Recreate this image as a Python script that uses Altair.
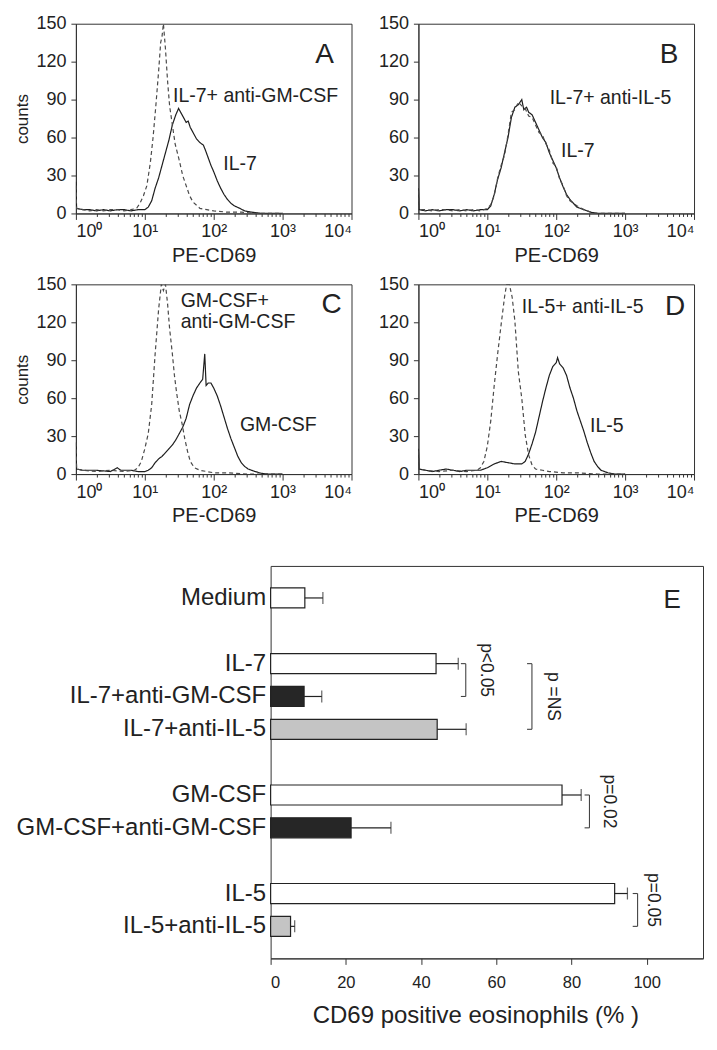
import altair as alt
import pandas as pd

FONT = "Liberation Sans"
INK = "#222222"

# ---------------- histogram data (log10 PE-CD69 intensity, counts) ----------------
A_il7_e = [0.0, 0.01, 0.1, 0.2, 0.3, 0.4, 0.5, 0.6, 0.7, 0.8, 0.9, 1.0, 1.05, 1.1, 1.15, 1.2, 1.25, 1.3, 1.35, 1.4,
           1.45, 1.49, 1.52, 1.56, 1.6, 1.63, 1.66, 1.7, 1.75, 1.8, 1.85, 1.88, 1.92, 1.96, 2.0, 2.05, 2.1, 2.15,
           2.2, 2.25, 2.3, 2.38, 2.45, 2.55, 2.7, 3.0]
A_il7_c = [25, 4, 3, 3, 2, 3, 2, 3, 3, 2, 3, 3, 5, 10, 20, 28, 38, 48, 58, 70,
           78, 83, 80, 76, 72, 73, 68, 64, 59, 56, 54, 50, 44, 38, 33, 26, 20, 15,
           11, 8, 6, 4, 2, 1, 0, 0]
A_agm_e = [0.0, 0.01, 0.1, 0.2, 0.3, 0.4, 0.5, 0.6, 0.7, 0.8, 0.88, 0.93, 0.98, 1.03, 1.08, 1.12, 1.16, 1.2, 1.23,
           1.25, 1.27, 1.3, 1.33, 1.36, 1.4, 1.44, 1.5, 1.55, 1.6, 1.65, 1.7, 1.8, 1.9, 2.0, 2.2, 2.4, 2.6, 3.0]
A_agm_c = [22, 4, 3, 2, 3, 2, 3, 3, 2, 3, 4, 8, 14, 22, 40, 60, 85, 112, 135,
           140, 150, 130, 105, 85, 70, 55, 42, 30, 22, 14, 9, 4, 3, 2, 1, 1, 0, 0]

B_il7_e = [0.0, 0.01, 0.1, 0.2, 0.3, 0.4, 0.5, 0.6, 0.7, 0.8, 0.9, 1.0, 1.05, 1.1, 1.15, 1.2, 1.25, 1.3, 1.35, 1.4,
           1.45, 1.5, 1.53, 1.57, 1.6, 1.65, 1.7, 1.75, 1.8, 1.85, 1.9, 1.95, 2.0, 2.05, 2.1, 2.15, 2.2, 2.25,
           2.3, 2.4, 2.5, 2.6, 3.0]
B_il7_c = [20, 3, 2, 3, 2, 3, 3, 2, 3, 2, 3, 3, 6, 15, 27, 36, 48, 60, 76, 84,
           86, 90, 82, 84, 80, 78, 72, 66, 60, 56, 48, 42, 36, 28, 21, 15, 11, 8,
           5, 3, 1, 0, 0]
B_ail5_e = [0.0, 0.01, 0.1, 0.2, 0.3, 0.4, 0.5, 0.6, 0.7, 0.8, 0.9, 1.0, 1.05, 1.1, 1.15, 1.2, 1.25, 1.3, 1.35,
            1.4, 1.45, 1.5, 1.55, 1.6, 1.65, 1.7, 1.75, 1.8, 1.85, 1.9, 1.95, 2.0, 2.05, 2.1, 2.15, 2.2, 2.3,
            2.4, 2.5, 2.6, 3.0]
B_ail5_c = [18, 3, 3, 2, 3, 3, 2, 3, 2, 3, 2, 4, 7, 14, 28, 38, 46, 62, 80,
            82, 88, 85, 83, 77, 76, 70, 64, 62, 55, 50, 40, 37, 27, 22, 14, 10, 6,
            3, 1, 0, 0]

C_gm_e = [0.0, 0.01, 0.1, 0.3, 0.5, 0.6, 0.65, 0.8, 0.9, 1.0, 1.05, 1.1, 1.15, 1.2, 1.25, 1.3, 1.35, 1.4, 1.45,
          1.5, 1.55, 1.6, 1.65, 1.7, 1.75, 1.8, 1.84, 1.87, 1.89, 1.92, 1.96, 2.0, 2.05, 2.1, 2.15, 2.2, 2.25,
          2.3, 2.35, 2.4, 2.45, 2.5, 2.6, 2.7, 2.8, 3.0]
C_gm_c = [25, 4, 3, 3, 2, 5, 3, 3, 2, 2, 3, 5, 9, 12, 14, 17, 20, 23, 27,
          32, 37, 44, 55, 62, 68, 72, 75, 95, 70, 72, 72, 68, 62, 54, 45, 36, 28,
          21, 14, 9, 6, 4, 2, 0.5, 0, 0]
C_agm_e = [0.0, 0.01, 0.1, 0.3, 0.5, 0.7, 0.85, 0.9, 0.95, 1.0, 1.05, 1.1, 1.15, 1.2, 1.24, 1.27, 1.3, 1.33,
           1.36, 1.4, 1.43, 1.46, 1.5, 1.54, 1.58, 1.62, 1.66, 1.72, 1.8, 1.9, 2.0, 2.2, 2.5, 3.0]
C_agm_c = [25, 4, 3, 2, 3, 2, 3, 5, 10, 20, 32, 55, 95, 130, 150, 145, 150, 135,
           115, 95, 78, 65, 50, 40, 28, 18, 10, 5, 3, 2, 1, 1, 0, 0]

D_il5_e = [0.0, 0.01, 0.1, 0.2, 0.3, 0.4, 0.5, 0.6, 0.7, 0.8, 0.9, 1.0, 1.1, 1.2, 1.3, 1.4, 1.5, 1.55, 1.6, 1.65,
           1.7, 1.75, 1.8, 1.85, 1.9, 1.95, 2.0, 2.02, 2.05, 2.1, 2.15, 2.2, 2.25, 2.3, 2.35, 2.4, 2.45, 2.5,
           2.55, 2.6, 2.65, 2.75, 2.85, 3.0]
D_il5_c = [20, 4, 3, 2, 3, 4, 3, 2, 3, 3, 3, 5, 8, 10, 9, 8, 8, 10, 16, 24,
           33, 45, 57, 68, 78, 85, 88, 92, 87, 84, 78, 68, 60, 50, 42, 34, 25, 17,
           10, 6, 3, 1, 0, 0]
D_ail5_e = [0.0, 0.01, 0.1, 0.3, 0.5, 0.7, 0.85, 0.9, 0.95, 1.0, 1.05, 1.1, 1.15, 1.2, 1.25, 1.28, 1.32, 1.36,
            1.4, 1.45, 1.5, 1.55, 1.6, 1.65, 1.7, 1.8, 1.9, 2.1, 2.3, 2.6, 3.0]
D_ail5_c = [18, 4, 3, 2, 3, 2, 3, 5, 10, 22, 42, 70, 95, 118, 140, 150, 150, 140,
            121, 81, 60, 31, 15, 7, 4, 3, 2, 1, 1, 0, 0]

# curve labels: (log10 x of left edge, counts, text)
A_notes = [(1.41, 93, "IL-7+ anti-GM-CSF"), (2.14, 39, "IL-7")]
B_notes = [(1.905, 91, "IL-7+ anti-IL-5"), (2.07, 49, "IL-7")]
C_notes = [(1.52, 137, "GM-CSF+"), (1.52, 120, "anti-GM-CSF"), (2.38, 39, "GM-CSF")]
D_notes = [(1.5, 132, "IL-5+ anti-IL-5"), (2.49, 38, "IL-5")]

MAJOR = [1, 10, 100, 1000, 10000]
MINOR = [m * 10 ** k for k in range(4) for m in range(2, 10)]
Y_TICKS = [0, 30, 60, 90, 120, 150]

# ---------------- panel E data ----------------
E_cats = ["Medium", "IL-7", "IL-7+anti-GM-CSF", "IL-7+anti-IL-5", "GM-CSF",
          "GM-CSF+anti-GM-CSF", "IL-5", "IL-5+anti-IL-5"]
E_vals = [9.1, 44.0, 8.9, 44.3, 77.5, 21.4, 91.5, 5.3]
E_errs = [4.8, 5.9, 4.7, 7.7, 5.1, 10.6, 3.4, 1.1]
E_treat = ["none", "none", "anti-GM-CSF", "anti-IL-5", "none", "anti-GM-CSF", "none", "anti-IL-5"]
E_domain = ["Medium", "_1", "IL-7", "IL-7+anti-GM-CSF", "IL-7+anti-IL-5", "_2",
            "GM-CSF", "GM-CSF+anti-GM-CSF", "_3", "IL-5", "IL-5+anti-IL-5"]
E_ticks = [0, 20, 40, 60, 80, 100]

BR_x = [51.9, 69.5, 84.8, 97.6]
BR_c1 = ["IL-7", "IL-7", "GM-CSF", "IL-5"]
BR_c2 = ["IL-7+anti-GM-CSF", "IL-7+anti-IL-5", "GM-CSF+anti-GM-CSF", "IL-5+anti-IL-5"]
BR_mid = ["IL-7", "IL-7+anti-GM-CSF", "GM-CSF", "IL-5"]
BR_kind = ["pair", "triple", "pair", "pair"]
BR_text = ["p<0.05", "p =NS", "p=0.02", "p=0.05"]
BR_tx = [57.3, 75.2, 90.1, 101.6]

# ---------------- histogram panels ----------------
PW, PH = 276, 190

major_test = " || ".join(f"datum.value == {v}" for v in MAJOR)
sup_expr = ("datum.value == 1 ? '10⁰' : datum.value == 10 ? '10¹' : datum.value == 100 ? '10²' : "
            "datum.value == 1000 ? '10³' : datum.value == 10000 ? '10⁴' : ''")


def panel(curves, notes, letter, lx, ly, ytitle):
    rows = []
    for name, style, es, cs in curves:
        for e, c in zip(es, cs):
            rows.append({"series": name, "style": style, "x": 10 ** e, "y": c})
    df = pd.DataFrame(rows)
    xs = alt.Scale(type="log", domain=[1, 10000], nice=False)
    ys = alt.Scale(domain=[0, 150], nice=False)
    xaxis = alt.Axis(values=sorted(MAJOR + MINOR), labelExpr=sup_expr, labelOverlap=False,
                     tickSize={"condition": {"test": major_test, "value": 6}, "value": 3},
                     grid=False, labelFontSize=18, titleFontSize=20, labelPadding=3, titlePadding=5,
                     titleFontWeight="normal")
    yaxis = alt.Axis(values=Y_TICKS, tickSize=5, grid=False, labelFontSize=18, labelPadding=5,
                     labelOverlap=False, labelSeparation=0, labelFlush=False,
                     titleFontSize=17, titlePadding=4, titleFontWeight="normal")
    x = alt.X("x:Q", scale=xs, axis=xaxis, title="PE-CD69")
    y = alt.Y("y:Q", scale=ys, axis=yaxis, title=("counts" if ytitle else None))
    lines = alt.Chart(df).mark_line(strokeWidth=1.2, clip=True).encode(
        x=x, y=y, detail="series:N", order="x:Q",
        strokeDash=alt.StrokeDash("style:N", scale=alt.Scale(domain=["solid", "dashed"], range=[[1, 0], [4, 3]]),
                                  legend=None),
        color=alt.Color("style:N", scale=alt.Scale(domain=["solid", "dashed"], range=["#1e1e1e", "#4a4a4a"]),
                        legend=None),
    )
    ndf = pd.DataFrame({"x": [10 ** n[0] for n in notes], "y": [n[1] for n in notes], "t": [n[2] for n in notes]})
    txt = alt.Chart(ndf).mark_text(align="left", baseline="middle", fontSize=19.5, color=INK).encode(
        x=x, y=y, text="t:N")
    let = alt.Chart(pd.DataFrame({"t": [letter]})).mark_text(
        align="center", baseline="middle", fontSize=28, color=INK).encode(
        text="t:N", x=alt.value(lx), y=alt.value(ly))
    return alt.layer(lines, txt, let).properties(width=PW, height=PH)


pA = panel([("IL-7", "solid", A_il7_e, A_il7_c), ("IL-7+anti-GM-CSF", "dashed", A_agm_e, A_agm_c)],
           A_notes, "A", 249, 31, True)
pB = panel([("IL-7", "solid", B_il7_e, B_il7_c), ("IL-7+anti-IL-5", "dashed", B_ail5_e, B_ail5_c)],
           B_notes, "B", 251, 31, False)
pC = panel([("GM-CSF", "solid", C_gm_e, C_gm_c), ("GM-CSF+anti-GM-CSF", "dashed", C_agm_e, C_agm_c)],
           C_notes, "C", 256, 21, True)
pD = panel([("IL-5", "solid", D_il5_e, D_il5_c), ("IL-5+anti-IL-5", "dashed", D_ail5_e, D_ail5_c)],
           D_notes, "D", 257, 23, False)

# ---------------- panel E ----------------
edf = pd.DataFrame({"cat": E_cats, "val": E_vals, "err": E_errs, "treat": E_treat})
edf["hi"] = edf["val"] + edf["err"]
bdf = pd.DataFrame({"bx": BR_x, "c1": BR_c1, "c2": BR_c2, "mid": BR_mid, "kind": BR_kind,
                    "t": BR_text, "tx": BR_tx})

exs = alt.Scale(domain=[0, 115], nice=False, zero=True)
eys = alt.Scale(domain=E_domain, paddingInner=0.39, paddingOuter=0.67)
exaxis = alt.Axis(values=E_ticks, tickSize=6, grid=False, labelFontSize=16.5, labelPadding=10,
                  titleFontSize=24, titlePadding=13, titleFontWeight="normal", titleX=205)
eyaxis = alt.Axis(ticks=False, domain=False, labelFontSize=24, labelPadding=5, grid=False, labelLimit=400,
                  labelExpr="indexof(datum.value, '_') == 0 ? '' : datum.value")

EX = alt.X("val:Q", scale=exs, axis=exaxis, title="CD69 positive eosinophils (% )")
EY = alt.Y("cat:N", scale=eys, axis=eyaxis, title=None)

bars = alt.Chart(edf).mark_bar(stroke=INK, strokeWidth=1.2).encode(
    x=EX, y=EY,
    fill=alt.Fill("treat:N", scale=alt.Scale(domain=["none", "anti-GM-CSF", "anti-IL-5"],
                                            range=["#ffffff", "#262626", "#c4c4c4"]), legend=None))
errline = alt.Chart(edf).mark_rule(color=INK, strokeWidth=1.2).encode(
    x="val:Q", x2="hi:Q", y=alt.Y("cat:N", bandPosition=0.5))
errcap = alt.Chart(edf).mark_tick(color=INK, orient="vertical", size=12, thickness=1.2).encode(
    x="hi:Q", y=alt.Y("cat:N"))

br_v = alt.Chart(bdf).mark_rule(color="#444", strokeWidth=1.1).encode(
    x="bx:Q", y=alt.Y("c1:N", bandPosition=0.5), y2=alt.Y2("c2:N", bandPosition=0.5))
br_h = alt.Chart(bdf).transform_fold(["c1", "c2"], as_=["end", "cc"]).transform_calculate(
    bx0="datum.bx - 1.3").mark_rule(color="#444", strokeWidth=1.1).encode(
    x="bx0:Q", x2="bx:Q", y=alt.Y("cc:N", bandPosition=0.5))
br_t_pair = alt.Chart(bdf).transform_filter("datum.kind == 'pair'").mark_text(
    angle=90, align="center", baseline="middle", fontSize=17.5, color=INK).encode(
    x="tx:Q", y=alt.Y("mid:N", bandPosition=0.5), yOffset=alt.value(16.5), text="t:N")
br_t_tri = alt.Chart(bdf).transform_filter("datum.kind == 'triple'").mark_text(
    angle=90, align="center", baseline="middle", fontSize=17.5, color=INK).encode(
    x="tx:Q", y=alt.Y("mid:N", bandPosition=0.5), text="t:N")
eletter = alt.Chart(pd.DataFrame({"t": ["E"]})).mark_text(
    align="center", baseline="middle", fontSize=26, color=INK).encode(
    text="t:N", x=alt.value(402), y=alt.value(34))

pE = alt.layer(bars, errline, errcap, br_v, br_h, br_t_pair, br_t_tri, eletter).properties(width=433, height=393)

spacer = alt.Chart(pd.DataFrame({"t": [""]})).mark_text().encode(
    text="t:N", x=alt.value(0), y=alt.value(0)
).properties(width=195, height=20, view=alt.ViewBackground(stroke="transparent"))
rowE = alt.hconcat(spacer, pE, spacing=0, bounds="flush")

row1 = alt.hconcat(pA, pB, spacing=25)
row2 = alt.hconcat(pC, pD, spacing=25)
top = alt.vconcat(row1, row2, spacing=8)

chart = alt.vconcat(top, rowE, spacing=32).properties(
    padding={"left": 5, "top": 5, "right": 5, "bottom": 5}
).configure(font=FONT).configure_view(stroke="#333333", strokeWidth=1).configure_axis(
    domainColor="#333333", tickColor="#333333", labelColor=INK, titleColor=INK, domainWidth=1, tickWidth=1,
    labelOverlap=False
)

chart.save("out.html", embed_options={"renderer": "svg", "actions": False})
